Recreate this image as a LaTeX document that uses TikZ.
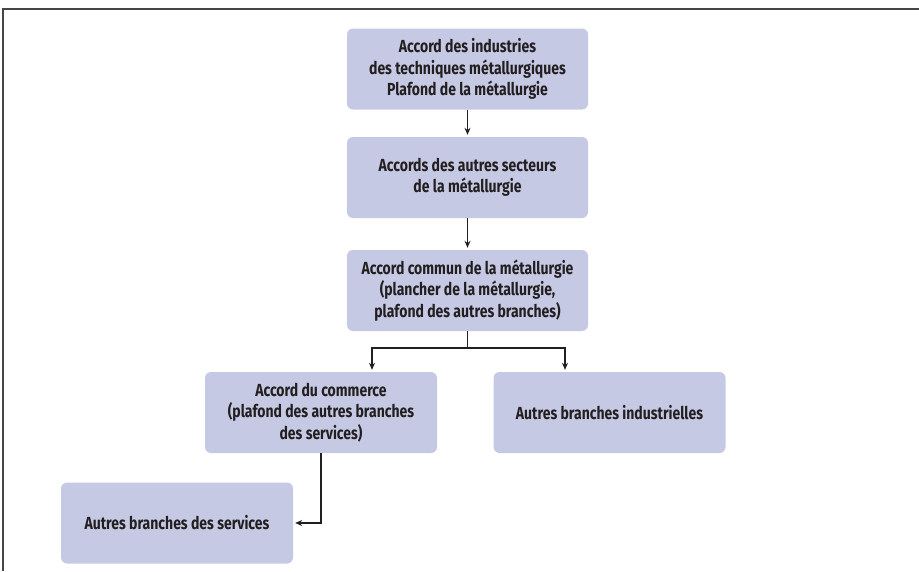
\documentclass[tikz,border=0pt]{standalone}
\usepackage{fontspec}
\setmainfont{Fira Sans}[FakeStretch=0.80]
\usetikzlibrary{arrows.meta}

\definecolor{boxfill}{RGB}{197,201,228}
\definecolor{textgray}{RGB}{35,31,32}
\definecolor{framegray}{RGB}{70,70,70}

\tikzset{
	accordbox/.style={fill=boxfill, rounded corners=6pt, minimum width=232pt, minimum height=81pt,
		align=center, text=textgray, font=\fontsize{17.5}{21.5}\selectfont\bfseries, inner sep=2pt},
	conn/.style={line width=1.1pt, draw=textgray, -{Stealth[length=7pt,width=6pt]}, shorten >=2pt},
}

\begin{document}
\begin{tikzpicture}[x=1pt,y=-1pt]
		\useasboundingbox (0,0) rectangle (919,571);
		\draw[framegray, line width=1.2pt] (3,571) -- (3,9) -- (919,9);
		\node[accordbox, minimum width=241pt] (top) at (467.5,69) {Accord des industries\\des techniques métallurgiques\\Plafond de la métallurgie};
		\node[accordbox, minimum width=241pt] (secteurs) at (467.5,177.5) {Accords des autres secteurs\\de la métallurgie};
		\node[accordbox, minimum width=241pt] (commun) at (467.5,290.5) {Accord commun de la métallurgie\\(plancher de la métallurgie,\\plafond des autres branches)};
		\node[accordbox] (commerce) at (321,412.5) {Accord du commerce\\(plafond des autres branches\\des services)};
		\node[accordbox] (industrie) at (609.5,412.5) {Autres branches industrielles};
		\node[accordbox] (services) at (177,523) {Autres branches des services};
		\coordinate (split) at (467.5,348);
		\draw[conn] (top) -- (secteurs);
		\draw[conn] (secteurs) -- (commun);
		\draw[line width=1.1pt, textgray] (commun.south) -- (split);
		\draw[conn] (split) -| ([xshift=51pt]commerce.north);
		\draw[conn] (split) -| ([xshift=-44.5pt]industrie.north);
		\draw[conn] (commerce.south) |- (services.east);
		\end{tikzpicture}
\end{document}
